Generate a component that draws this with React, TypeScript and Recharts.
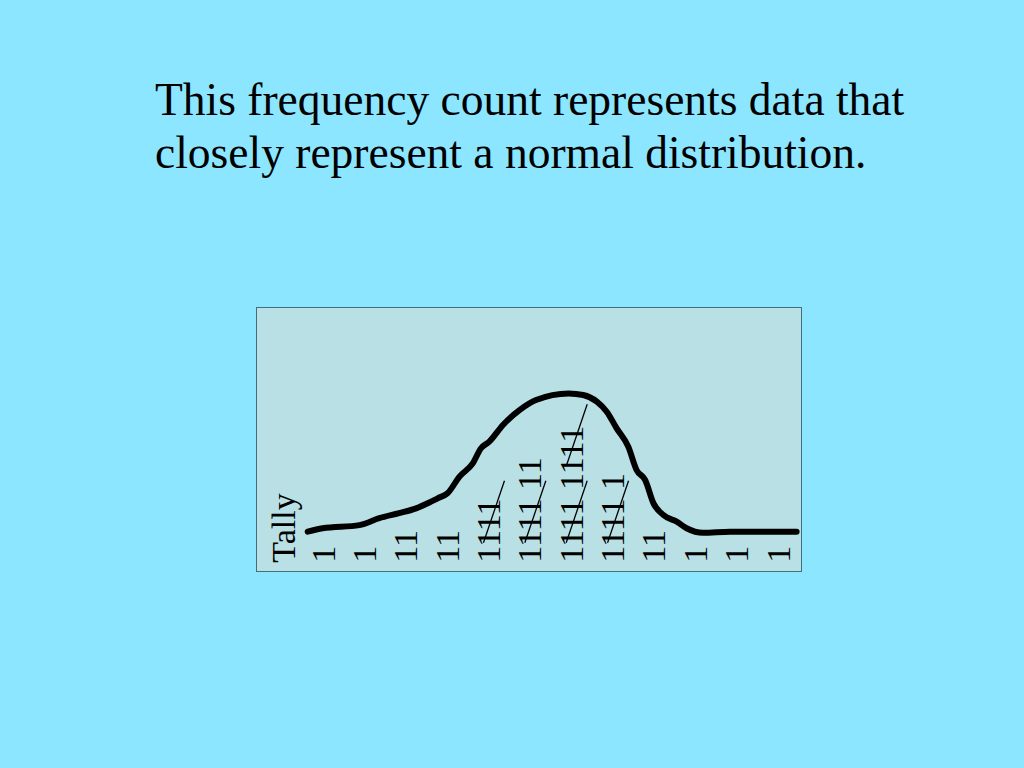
import React from "react";
import { ComposedChart, Line, Scatter, XAxis, YAxis } from "recharts";

// tally counts per column (a struck "1111" counts as five)
const tallyCounts = [1, 1, 2, 2, 5, 7, 10, 6, 2, 1, 1, 1];
const headerLabels = ["Tally"];

// hand-drawn curve (x in columns, y in chart units)
const curveX = [
  -0.37, -0.01, 0.88, 1.36, 1.84, 2.25, 2.57, 2.77, 3.01, 3.3, 3.62, 3.82, 4.02,
  4.35, 4.75, 5.15, 5.94, 6.29, 6.62, 6.86, 7.1, 7.38, 7.58, 7.79, 7.99, 8.23,
  8.55, 8.79, 9.19, 9.84, 10.65, 11.45,
];
const curveY = [
  1.17, 1.3, 1.42, 1.68, 1.87, 2.05, 2.27, 2.43, 2.62, 3.25, 3.75, 4.32, 4.57,
  5.2, 5.76, 6.14, 6.39, 6.33, 6.08, 5.7, 5.07, 4.38, 3.5, 3.12, 2.24, 1.8,
  1.55, 1.3, 1.13, 1.17, 1.17, 1.17,
];

const curveData = curveX.map((x, i) => ({ x, y: curveY[i] }));
const tallyData = tallyCounts.map((count, i) => ({ x: i, y: 0, count }));
const headerData = headerLabels.map((label, i) => ({ x: -1 - i, y: 0, label }));

const FONT = "'Liberation Serif', 'Times New Roman', serif";
const TALLY_SIZE = 34;
const GROUP_STEP = TALLY_SIZE * 2.25; // "1111 " along the text

function tallyText(n: number) {
  const groups = Math.floor(n / 5);
  const rest = n % 5;
  const parts: string[] = [];
  for (let g = 0; g < groups; g++) parts.push("1111");
  if (rest > 0) parts.push("1".repeat(rest));
  return { text: parts.join(" "), groups };
}

const TallyMark = (props: any) => {
  const { cx, cy, payload } = props;
  if (cx == null || cy == null) return null;
  const { text, groups } = tallyText(payload.count);
  const bx = cx + 11.5;
  const strikes = [];
  for (let g = 0; g < groups; g++) {
    const s = g * GROUP_STEP;
    strikes.push(
      <line
        key={g}
        x1={cx - 5}
        y1={cy - s - 20}
        x2={cx + 16}
        y2={cy - s - 82}
        stroke="#000"
        strokeWidth={1.3}
      />
    );
  }
  return (
    <g>
      <text
        x={bx}
        y={cy}
        transform={`rotate(-90, ${bx}, ${cy})`}
        fontFamily={FONT}
        fontSize={TALLY_SIZE}
        fill="#000"
      >
        {text}
      </text>
      {strikes}
    </g>
  );
};

const HeaderMark = (props: any) => {
  const { cx, cy, payload } = props;
  if (cx == null || cy == null) return null;
  const bx = cx + 13;
  return (
    <text
      x={bx}
      y={cy}
      transform={`rotate(-90, ${bx}, ${cy})`}
      fontFamily={FONT}
      fontSize={TALLY_SIZE}
      fill="#000"
    >
      {payload.label}
    </text>
  );
};

export default function App() {
  return (
    <div
      style={{
        position: "absolute",
        left: 0,
        top: 0,
        width: 1024,
        height: 768,
        background: "#8de6ff",
        overflow: "hidden",
      }}
    >
      <div
        style={{
          position: "absolute",
          left: 155,
          top: 73,
          width: 840,
          fontFamily: FONT,
          fontSize: 45.5,
          lineHeight: "53px",
          color: "#000",
          whiteSpace: "nowrap",
        }}
      >
        This frequency count represents data that
        <br />
        closely represent a normal distribution.
      </div>

      <div
        style={{
          position: "absolute",
          left: 256,
          top: 307,
          width: 546,
          height: 265,
          boxSizing: "border-box",
          border: "1.5px solid #3f6f7f",
          background: "#b9e0e5",
        }}
      />

      <div style={{ position: "absolute", left: 256, top: 307 }}>
        <ComposedChart
          width={546}
          height={265}
          margin={{ top: 0, right: 0, bottom: 0, left: 0 }}
        >
          <XAxis
            type="number"
            dataKey="x"
            domain={[-1.62, 11.58]}
            allowDataOverflow
            hide
          />
          <YAxis
            type="number"
            dataKey="y"
            domain={[-0.35, 9.65]}
            allowDataOverflow
            hide
          />
          <Scatter
            data={headerData}
            dataKey="y"
            shape={HeaderMark}
            isAnimationActive={false}
          />
          <Scatter
            data={tallyData}
            dataKey="y"
            shape={TallyMark}
            isAnimationActive={false}
          />
          <Line
            data={curveData}
            dataKey="y"
            type="monotone"
            stroke="#000"
            strokeWidth={6}
            strokeLinecap="round"
            strokeLinejoin="round"
            dot={false}
            activeDot={false}
            isAnimationActive={false}
          />
        </ComposedChart>
      </div>
    </div>
  );
}
